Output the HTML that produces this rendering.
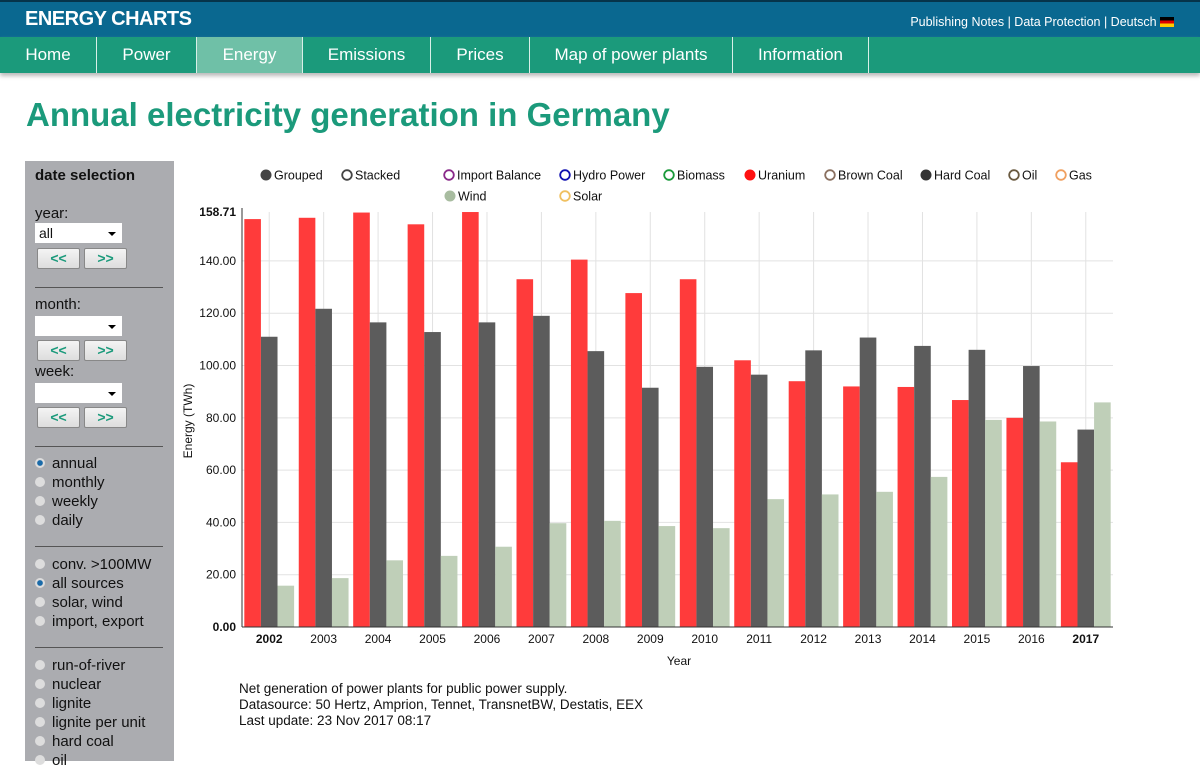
<!DOCTYPE html>
<html><head><meta charset="utf-8"><style>
body{margin:0;width:1200px;height:761px;overflow:hidden;background:#fff;font-family:"Liberation Sans",Arial,sans-serif;position:relative}
.top{position:absolute;left:0;top:0;width:1200px;height:37px;background:#0a6890;border-top:2px solid #06344a;box-sizing:border-box}
.brand{position:absolute;left:25px;top:6px;color:#fff;font-size:20px;font-weight:bold;letter-spacing:-0.5px}
.links{position:absolute;right:26px;top:13px;color:#fff;font-size:12.5px}
.flag{display:inline-block;width:14px;height:10px;vertical-align:-1px;background:linear-gradient(#000 33%,#d00 33%,#d00 66%,#fc0 66%)}
.nav{position:absolute;left:0;top:37px;width:1200px;height:36px;background:#1b9a7b;box-shadow:0 3px 4px #bbb}
.nav a{position:absolute;top:0;height:36px;line-height:36px;color:#fff;font-size:17px;text-align:center;border-right:1px solid #d8efe8;text-decoration:none}
h1{position:absolute;left:26px;top:96px;margin:0;color:#1b9a7b;font-size:33px;font-weight:bold}
.side{position:absolute;left:25px;top:161px;width:149px;height:600px;background:#abacb0;font-size:15px;color:#111}
.side .t{position:absolute;left:10px;top:6px;font-weight:bold;font-size:15px}
.side .l{position:absolute;left:10px}
.sel{position:absolute;left:10px;width:87px;height:20px;background:#fff}
.sel:after{content:"";position:absolute;right:6px;top:9px;border:4px solid transparent;border-top-color:#000;border-bottom:0}
.btn{position:absolute;width:41px;height:19px;background:linear-gradient(#f4f4f4,#ddd);border:1px solid #888;border-radius:2px;color:#1b9a7b;font-weight:bold;font-size:14px;text-align:center;line-height:19px}
.hr{position:absolute;left:10px;width:128px;height:1px;background:#555}
.r{position:absolute;left:10px;font-size:15px}
.r i{display:inline-block;width:10px;height:10px;border-radius:50%;background:#ddd;margin-right:7px;vertical-align:0}
.r i.on{background:radial-gradient(#1a6aa8 35%,#ddd 45%)}
.foot{position:absolute;left:239px;top:681px;font-size:13.5px;line-height:16px;color:#111}
</style></head><body>
<div class="top"><div class="brand">ENERGY CHARTS</div>
<div class="links">Publishing Notes | Data Protection | Deutsch <span class="flag"></span></div></div>
<div class="nav">
<a style="left:0;width:96px">Home</a>
<a style="left:97px;width:99px">Power</a>
<a style="left:197px;width:105px;background:#6fc0a7">Energy</a>
<a style="left:303px;width:127px">Emissions</a>
<a style="left:431px;width:98px">Prices</a>
<a style="left:530px;width:202px">Map of power plants</a>
<a style="left:733px;width:135px">Information</a>
</div>
<h1>Annual electricity generation in Germany</h1>
<div class="side">
<div class="t">date selection</div>
<div class="l" style="top:44px">year:</div>
<div class="sel" style="top:62px"><span style="position:absolute;left:4px;top:2px;font-size:14px">all</span></div>
<div class="btn" style="left:12px;top:87px">&lt;&lt;</div>
<div class="btn" style="left:59px;top:87px">&gt;&gt;</div>
<div class="hr" style="top:126px"></div>
<div class="l" style="top:135px">month:</div>
<div class="sel" style="top:155px"></div>
<div class="btn" style="left:12px;top:179px">&lt;&lt;</div>
<div class="btn" style="left:59px;top:179px">&gt;&gt;</div>
<div class="l" style="top:202px">week:</div>
<div class="sel" style="top:222px"></div>
<div class="btn" style="left:12px;top:246px">&lt;&lt;</div>
<div class="btn" style="left:59px;top:246px">&gt;&gt;</div>
<div class="hr" style="top:285px"></div>
<div class="r" style="top:294px"><i class="on"></i>annual</div>
<div class="r" style="top:313px"><i></i>monthly</div>
<div class="r" style="top:332px"><i></i>weekly</div>
<div class="r" style="top:351px"><i></i>daily</div>
<div class="hr" style="top:385px"></div>
<div class="r" style="top:395px"><i></i>conv. &gt;100MW</div>
<div class="r" style="top:414px"><i class="on"></i>all sources</div>
<div class="r" style="top:433px"><i></i>solar, wind</div>
<div class="r" style="top:452px"><i></i>import, export</div>
<div class="hr" style="top:486px"></div>
<div class="r" style="top:496px"><i></i>run-of-river</div>
<div class="r" style="top:515px"><i></i>nuclear</div>
<div class="r" style="top:534px"><i></i>lignite</div>
<div class="r" style="top:553px"><i></i>lignite per unit</div>
<div class="r" style="top:572px"><i></i>hard coal</div>
<div class="r" style="top:591px"><i></i>oil</div>
</div>
<svg id="chart" width="1200" height="761" style="position:absolute;left:0;top:0" font-family="Liberation Sans, Arial, sans-serif"></svg>
<div class="foot">Net generation of power plants for public power supply.<br>Datasource: 50 Hertz, Amprion, Tennet, TransnetBW, Destatis, EEX<br>Last update: 23 Nov 2017 08:17</div>
<script>
const years=["2002","2003","2004","2005","2006","2007","2008","2009","2010","2011","2012","2013","2014","2015","2016","2017"];
const uranium=[156,156.5,158.5,154,158.7,133,140.5,127.7,133,102,94,92,91.8,86.8,80,63];
const hardCoal=[111,121.7,116.5,112.8,116.5,119,105.5,91.5,99.5,96.5,105.8,110.7,107.5,106,99.8,75.5];
const wind=[15.8,18.7,25.5,27.2,30.7,39.7,40.6,38.6,37.8,48.9,50.7,51.7,57.4,79.2,78.6,85.9];
const yTicks=[0,20,40,60,80,100,120,140,158.71];
const NS="http://www.w3.org/2000/svg";
const svg=document.getElementById('chart');
const x0=242,x1=1113,y0=627,yMax=158.71,yTop=212;
const step=(x1-x0)/years.length;
function y(v){return y0-(v/yMax)*(y0-yTop);}
function xc(i){return x0+step*(i+0.5);}
function mk(tag,attrs){const e=document.createElementNS(NS,tag);for(const k in attrs)e.setAttribute(k,attrs[k]);svg.appendChild(e);return e;}
yTicks.forEach(t=>{
  if(t>0&&t<150){const g=mk('line',{x1:x0,x2:x1,y1:y(t),y2:y(t),stroke:'#e2e2e2'});}
  const l=mk('text',{x:236,y:y(t)+4,'text-anchor':'end','font-size':12,'font-weight':t===0||t===yMax?'bold':'normal',fill:'#111'});
  l.textContent=t===0?"0.00":t.toFixed(2);
  
  
});
years.forEach((yr,i)=>{
  const g=mk('line',{x1:xc(i),x2:xc(i),y1:yTop,y2:y0,stroke:'#e2e2e2'});
  
  
});
const series=[[uranium,'#ff3b3b','uranium'],[hardCoal,'#5c5c5c','hard-coal'],[wind,'#bfcfb8','wind']];
const bw=16.6;
years.forEach((yr,i)=>{
  series.forEach((s,j)=>{
    const bx=xc(i)-bw*1.5+j*bw;
    const r=mk('rect',{x:bx,y:y(s[0][i]),width:bw,height:y0-y(s[0][i]),fill:s[1]});
    
    
  });
  const t=mk('text',{x:xc(i),y:643,'text-anchor':'middle','font-size':12,'font-weight':(i===0||i===years.length-1)?'bold':'normal',fill:'#111'});
  t.textContent=yr;
  
  
});
const ax=mk('line',{x1:x0,x2:x0,y1:yTop-4,y2:y0,stroke:'#333'});


const bx=mk('line',{x1:x0,x2:x1,y1:y0,y2:y0,stroke:'#333'});


const xt=mk('text',{x:679,y:665,'text-anchor':'middle','font-size':12,fill:'#111'});xt.textContent='Year';


const yt=mk('text',{x:0,y:0,'text-anchor':'middle','font-size':12,fill:'#111',transform:'translate(192,421) rotate(-90)'});yt.textContent='Energy (TWh)';


const legend=[["Grouped",266,175,'#444',true],["Stacked",347,175,'#444',false],["Import Balance",449,175,'#8a2a8a',false],["Hydro Power",565,175,'#1010b0',false],["Biomass",669,175,'#1a9a3a',false],["Uranium",750,175,'#ff1010',true],["Brown Coal",830,175,'#8a7060',false],["Hard Coal",926,175,'#333',true],["Oil",1014,175,'#6a5a40',false],["Gas",1061,175,'#f0a060',false],["Wind",450,196,'#a8bca0',true],["Solar",565,196,'#f0c060',false]];
legend.forEach(l=>{
  const c=mk('circle',{cx:l[1],cy:l[2],r:l[4]?5.5:4.8,fill:l[4]?l[3]:'#fff',stroke:l[3],'stroke-width':l[4]?0:1.8});
  
  
  const t=mk('text',{x:l[1]+8,y:l[2]+4.5,'font-size':12.5,fill:'#111'});t.textContent=l[0];
  
  
});
</script>
</body></html>
